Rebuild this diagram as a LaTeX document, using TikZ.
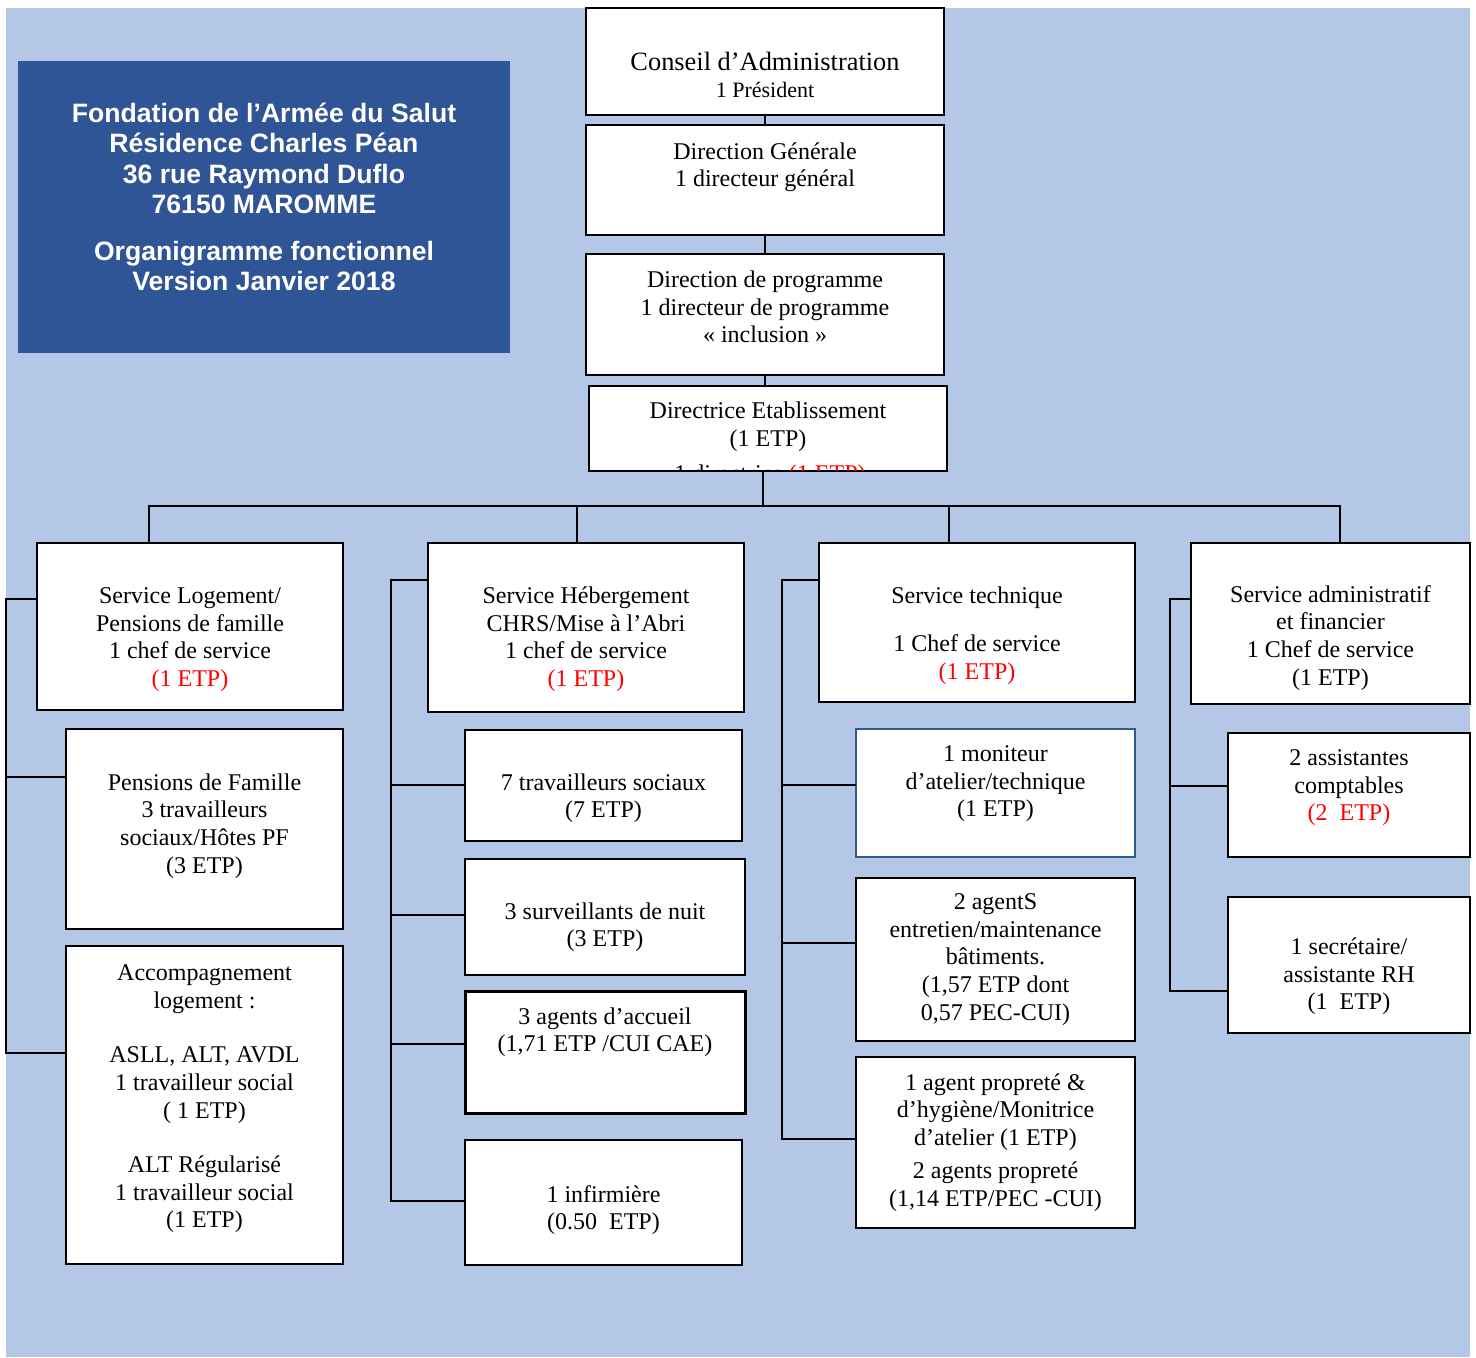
\documentclass[tikz,border=0pt]{standalone}
\usepackage{fontspec}
\setmainfont{Liberation Serif}
\newfontfamily\titrefont{Liberation Sans}
\definecolor{fondbleu}{HTML}{B4C7E7}
\definecolor{bleutitre}{HTML}{2F5597}
\definecolor{bordbleu}{HTML}{2E5C8A}
\newcommand{\etp}[1]{\textcolor{red}{#1}}
\newcommand{\hautstrut}[1]{\rule{0pt}{#1}}
\newcommand{\basstrut}[1]{\rule[-#1]{0pt}{#1}}
\begin{document}
\begin{tikzpicture}[x=0.5pt,y=-0.5pt,
	boite/.style={draw,line width=1pt,fill=white,align=center,inner sep=0pt,font=\fontsize{12}{13.8}\selectfont},
	lien/.style={line width=0.9pt,line cap=rect}]
	\useasboundingbox (0,0) rectangle (1476,1357);
	\fill[fondbleu] (6,8) rectangle (1470,1357);
	% titre
	\node[fill=bleutitre,text=white,minimum width=246pt,minimum height=146pt,align=center,font=\titrefont\bfseries\fontsize{13.3}{15.25}\selectfont] (titre) at (264,207) {Fondation de l’Armée du Salut\\Résidence Charles Péan\\36 rue Raymond Duflo\\76150 MAROMME\\[8pt]Organigramme fonctionnel\\Version Janvier 2018\basstrut{10.5pt}};
	% direction
	\node[boite,minimum width=179pt,minimum height=53.5pt] (ca) at (765,61.5) {{\fontsize{13.2}{15}\selectfont\hautstrut{22.5pt}Conseil d’Administration}\\{\fontsize{11}{13}\selectfont 1 Président}};
	\node[boite,minimum width=179pt,minimum height=55pt] (dg) at (765,180) {Direction Générale\\1 directeur général\basstrut{15.5pt}};
	\node[boite,minimum width=179pt,minimum height=60.5pt] (dp) at (765,314.5) {Direction de programme\\1 directeur de programme\\«~inclusion~»\basstrut{7.7pt}};
	\node[boite,minimum width=179pt,minimum height=42.5pt] (de) at (768,428.5) {Directrice Etablissement\\(1 ETP)\basstrut{4.2pt}};
	\begin{scope}
		\clip ([shift={(1pt,1pt)}]de.south west) rectangle ([shift={(-1pt,-1pt)}]de.north east);
		\node[inner sep=0pt,font=\fontsize{12}{13.8}\selectfont] (defrag) at (770,476) {1 directrice \etp{(1 ETP)}};
	\end{scope}
	% logement
	\node[boite,minimum width=153pt,minimum height=83.5pt] (sl) at (190,626.5) {\hautstrut{21pt}Service Logement/\\Pensions de famille\\1 chef de service\\\etp{(1 ETP)}};
	\node[boite,minimum width=138.5pt,minimum height=100pt] (pf) at (204.5,829) {Pensions de Famille\\3 travailleurs\\sociaux/Hôtes PF\\(3 ETP)\basstrut{5.7pt}};
	\node[boite,minimum width=138.5pt,minimum height=159pt] (al) at (204.5,1105) {Accompagnement\\logement :\\[13.5pt]ASLL, ALT, AVDL\\1 travailleur social\\( 1 ETP)\\[13.5pt]ALT Régularisé\\1 travailleur social\\(1 ETP)\basstrut{8.7pt}};
	% hebergement
	\node[boite,minimum width=158pt,minimum height=84.5pt] (sh) at (586,627.5) {\hautstrut{20.2pt}Service Hébergement\\CHRS/Mise à l’Abri\\1 chef de service\\\etp{(1 ETP)}};
	\node[boite,minimum width=138.5pt,minimum height=55.5pt] (ts) at (603.5,785.5) {\hautstrut{21pt}7 travailleurs sociaux\\(7 ETP)};
	\node[boite,minimum width=140pt,minimum height=58pt] (sn) at (605,917) {\hautstrut{18.5pt}3 surveillants de nuit\\(3 ETP)};
	\node[boite,line width=1.5pt,minimum width=140pt,minimum height=61pt] (aa) at (605,1052) {3 agents d’accueil\\(1,71 ETP /CUI CAE)\basstrut{22.2pt}};
	\node[boite,minimum width=138.5pt,minimum height=62.5pt] (inf) at (603.5,1202.5) {\hautstrut{16.2pt}1 infirmière\\(0.50~ ETP)};
	% technique
	\node[boite,minimum width=158pt,minimum height=79.5pt] (st) at (977,622.5) {\hautstrut{21.5pt}Service technique\\[10.2pt]1 Chef de service\\\etp{(1 ETP)}};
	\node[boite,draw=bordbleu,line width=0.75pt,minimum width=139.5pt,minimum height=64pt] (mo) at (995.5,793) {1 moniteur\\d’atelier/technique\\(1 ETP)\basstrut{11.7pt}};
	\node[boite,minimum width=139.5pt,minimum height=81.5pt] (ae) at (995.5,959.5) {2 agentS\\entretien/maintenance\\bâtiments.\\(1,57 ETP dont\\0,57 PEC-CUI)};
	\node[boite,minimum width=139.5pt,minimum height=85.5pt] (ap) at (995.5,1142.5) {1 agent propreté \&\\d’hygiène/Monitrice\\d’atelier (1 ETP)\\[2.75pt]2 agents propreté\\(1,14 ETP/PEC -CUI)};
	% administratif
	\node[boite,minimum width=139.5pt,minimum height=80.5pt] (sa) at (1330.5,623.5) {\hautstrut{22.7pt}Service administratif\\et financier\\1 Chef de service\\(1 ETP)};
	\node[boite,minimum width=121pt,minimum height=62pt] (ac) at (1349,795) {2 assistantes\\comptables\\\etp{(2~ ETP)}\basstrut{9.7pt}};
	\node[boite,minimum width=121pt,minimum height=68pt] (sr) at (1349,965) {\hautstrut{19.7pt}1 secrétaire/\\assistante RH\\(1~ ETP)};
	% liaisons
	\draw[lien] (ca.south) -- (dg.north);
	\draw[lien] (dg.south) -- (dp.north);
	\draw[lien] (dp.south) -- (dp.south |- de.north);
	\coordinate (bus) at (763,506);
	\coordinate (b1) at (149,506);
	\coordinate (b2) at (577,506);
	\coordinate (b3) at (949,506);
	\coordinate (b4) at (1340,506);
	\draw[lien] (bus |- de.south) -- (bus);
	\draw[lien] (b1) -- (b4);
	\foreach \b/\n in {b1/sl,b2/sh,b3/st,b4/sa} \draw[lien] (\b) -- (\b |- \n.north);
	\coordinate (rail1) at (6,0);
	\coordinate (rail2) at (391,0);
	\coordinate (rail3) at (782,0);
	\coordinate (rail4) at (1170,0);
	\draw[lien] (rail1 |- 0,599) -- (rail1 |- 0,1053);
	\foreach \y/\n in {599/sl,777/pf,1053/al} \draw[lien] (rail1 |- 0,\y) -- (\n.west |- 0,\y);
	\draw[lien] (rail2 |- 0,580) -- (rail2 |- 0,1201);
	\foreach \y/\n in {580/sh,785/ts,915/sn,1044/aa,1201/inf} \draw[lien] (rail2 |- 0,\y) -- (\n.west |- 0,\y);
	\draw[lien] (rail3 |- 0,580) -- (rail3 |- 0,1139);
	\foreach \y/\n in {580/st,785/mo,943/ae,1139/ap} \draw[lien] (rail3 |- 0,\y) -- (\n.west |- 0,\y);
	\draw[lien] (rail4 |- 0,599) -- (rail4 |- 0,991);
	\foreach \y/\n in {599/sa,786/ac,991/sr} \draw[lien] (rail4 |- 0,\y) -- (\n.west |- 0,\y);
\end{tikzpicture}
\end{document}
